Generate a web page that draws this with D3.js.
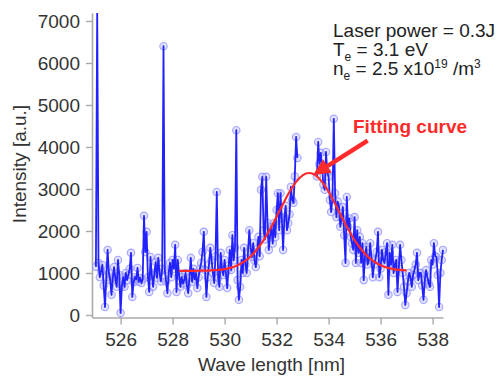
<!DOCTYPE html>
<html>
<head>
<meta charset="utf-8">
<script src="https://cdn.jsdelivr.net/npm/d3@7"></script>
<style>
  body { margin: 0; background: #fff; }
  svg text { font-family: "Liberation Sans", Arial, sans-serif; }
</style>
</head>
<body>
<svg id="chart" width="502" height="376"></svg>
<script>
// spectrum sampled every 0.05 nm from 525.05 nm; null = blocked around the laser line
const wlStart = 525.05;
const wlStep = 0.05;
const intensity = [
  1150, 7300, 1240, 900, 1050, 1190, 700, 190, 900, 1550,
  1000, 830, 480, 900, 1140, 850, 670, 1310, 950, 50,
  700, 900, 670, 1000, 830, 950, 1100, 1480, 430, 780,
  900, 850, 1120, 790, 880, 760, 850, 2360, 1500, 1980,
  900, 550, 1380, 950, 670, 1000, 1260, 880, 1360, 1000,
  800, 1100, 6400, 1070, 800, 520, 1000, 1240, 900, 1310,
  1100, 1670, 550, 1310, 950, 670, 900, 750, 830, 1000,
  700, 520, 900, 1360, 790, 1100, 850, 1000, 640, 900,
  1100, 1240, 1500, 1980, 1070, 430, 900, 1200, 1600, 1310,
  1000, 760, 1400, 2930, 880, 670, 1480, 1100, 950, 1310,
  1000, 640, 1100, 1550, 1070, 1900, 1300, 1600, 4400, 830,
  360, 670, 1310, 1000, 1600, 1200, 1000, 1500, 2020, 1600,
  1380, 1710, 1300, 1140, 1500, 1860, 1400, 2980, 3290, 2020,
  1800, 3290, 2190, 1550, 1900, 2100, 1700, 2190, 1850, 2500,
  2900, 2020, 2900, 2300, 1550, 2330, 2600, 2020, 2190, 2400,
  3050, 2740, 2670, 3300, 4240, 3740, null, null, null, null,
  null, null, null, null, null, null, null, null, null, null,
  3300, 4120, 3600, 3860, 3520, 3100, 2980, 3880, 3400, 3290,
  2740, 2450, 2800, 4670, 2900, 2330, 2700, 2570, 2100, 2300,
  2570, 1900, 1240, 2810, 2100, 2300, 1860, 1700, 1550, 2330,
  1240, 2020, 1480, 1860, 1240, 1710, 830, 1400, 1620, 1200,
  1310, 1710, 1350, 900, 1200, 1310, 1500, 1980, 900, 1100,
  1550, 1300, 1240, 1500, 1710, 480, 1480, 1200, 1670, 1000,
  1200, 1310, 550, 1100, 1670, 1310, 1000, 670, 240, 520,
  800, 1000, 900, 670, 950, 1070, 1200, 1480, 830, 1000,
  1000, 700, 360, 830, 1070, 900, 750, 670, 1310, 1200,
  1710, 1400, 1380, 950, 190, 1000, 1310, 1550
];

// fitted curve
const fitWavelengths = [528.25, 528.5, 528.75, 529, 529.25, 529.5, 529.75, 530, 530.25, 530.5,
  530.75, 531, 531.25, 531.5, 531.75, 532, 532.25, 532.5, 532.75, 533, 533.25, 533.5, 533.75,
  534, 534.25, 534.5, 534.75, 535, 535.25, 535.5, 535.75, 536, 536.25, 536.5, 536.75, 537];
const fitValues = [1050, 1050, 1051, 1053, 1056, 1061, 1073, 1093, 1128, 1183,
  1269, 1394, 1564, 1782, 2045, 2340, 2646, 2933, 3170, 3326, 3380, 3326, 3170,
  2933, 2646, 2340, 2045, 1782, 1564, 1394, 1269, 1183, 1128, 1093, 1073, 1061];

const xTicks = [526, 528, 530, 532, 534, 536, 538];
const yTicks = [0, 1000, 2000, 3000, 4000, 5000, 6000, 7000];

const svg = d3.select("svg#chart");
const margin = { left: 92, right: 443, top: 13, bottom: 317.5 };

const x = d3.scaleLinear().domain([524.9, 538.4]).range([margin.left, margin.right]);
const y = d3.scaleLinear().domain([-60, 7190]).range([margin.bottom, margin.top]);

const points = intensity.map((v, i) => ({ wl: wlStart + i * wlStep, v }));

svg.append("defs").append("clipPath").attr("id", "plot")
  .append("rect")
  .attr("x", margin.left).attr("y", margin.top)
  .attr("width", margin.right - margin.left + 4)
  .attr("height", margin.bottom - margin.top);

// axes
const gx = svg.append("g")
  .attr("transform", `translate(0,${margin.bottom})`)
  .call(d3.axisBottom(x).tickValues(xTicks).tickFormat(d3.format("d")).tickSize(7).tickSizeOuter(0).tickPadding(8));
const gy = svg.append("g")
  .attr("transform", `translate(${margin.left},0)`)
  .call(d3.axisLeft(y).tickValues(yTicks).tickFormat(d3.format("d")).tickSize(6).tickSizeOuter(0).tickPadding(6));

[gx, gy].forEach(g => {
  g.select(".domain").attr("stroke", "#aaa").attr("stroke-width", 1.6);
  g.selectAll(".tick line").attr("stroke", "#aaa").attr("stroke-width", 1.4);
  g.selectAll(".tick text").attr("fill", "#333").style("font-size", "19px");
});

svg.append("text")
  .attr("x", (margin.left + margin.right) / 2 + 4)
  .attr("y", 371)
  .attr("text-anchor", "middle")
  .attr("fill", "#333")
  .style("font-size", "19px")
  .text("Wave length [nm]");

svg.append("text")
  .attr("transform", "translate(26,164) rotate(-90)")
  .attr("text-anchor", "middle")
  .attr("fill", "#333")
  .style("font-size", "19px")
  .text("Intensity [a.u.]");

// data
const plot = svg.append("g").attr("clip-path", "url(#plot)");

plot.append("g")
  .selectAll("circle")
  .data(points.filter(d => d.v != null))
  .enter()
  .append("circle")
  .attr("cx", d => x(d.wl))
  .attr("cy", d => y(d.v))
  .attr("r", 3.7)
  .attr("fill", "rgba(170,170,255,0.35)")
  .attr("stroke", "rgba(140,140,255,0.75)")
  .attr("stroke-width", 1.1);

const line = d3.line()
  .defined(d => d.v != null)
  .x(d => x(d.wl))
  .y(d => y(d.v));

plot.append("path")
  .datum(points)
  .attr("fill", "none")
  .attr("stroke", "#2222ff")
  .attr("stroke-width", 1.8)
  .attr("stroke-linejoin", "round")
  .attr("d", line);

const fitLine = d3.line()
  .curve(d3.curveMonotoneX)
  .x((d, i) => x(fitWavelengths[i]))
  .y(d => y(d));

plot.append("path")
  .datum(fitValues)
  .attr("fill", "none")
  .attr("stroke", "#ff2a2a")
  .attr("stroke-width", 2.2)
  .attr("d", fitLine);

// arrow pointing at the fit peak
const tail = [x(535.5), y(4150)];
const tip = [x(533.4), y(3330)];
const ang = Math.atan2(tip[1] - tail[1], tip[0] - tail[0]);
const headLen = 17, headHalf = 8;
const base = [tip[0] - headLen * Math.cos(ang), tip[1] - headLen * Math.sin(ang)];

svg.append("line")
  .attr("x1", tail[0]).attr("y1", tail[1])
  .attr("x2", base[0]).attr("y2", base[1])
  .attr("stroke", "#ff2a2a")
  .attr("stroke-width", 4.5);

svg.append("path")
  .attr("fill", "#ff2a2a")
  .attr("d", d3.line()([
    tip,
    [base[0] + headHalf * Math.sin(ang), base[1] - headHalf * Math.cos(ang)],
    [base[0] - headHalf * Math.sin(ang), base[1] + headHalf * Math.cos(ang)]
  ]) + "Z");

svg.append("text")
  .attr("x", 353)
  .attr("y", 133)
  .attr("fill", "#ff2a2a")
  .style("font-size", "19px")
  .style("font-weight", "bold")
  .text("Fitting curve");

// run conditions
const note = svg.append("g").attr("fill", "#222").style("font-size", "19px");
note.append("text").attr("x", 333).attr("y", 37).text("Laser power = 0.3J");

const te = note.append("text").attr("x", 333).attr("y", 56);
te.append("tspan").text("T");
te.append("tspan").attr("dy", 5).style("font-size", "12px").text("e");
te.append("tspan").attr("dy", -5).text(" = 3.1 eV");

const ne = note.append("text").attr("x", 333).attr("y", 75);
ne.append("tspan").text("n");
ne.append("tspan").attr("dy", 5).style("font-size", "12px").text("e");
ne.append("tspan").attr("dy", -5).text(" = 2.5 x10");
ne.append("tspan").attr("dy", -7).style("font-size", "12px").text("19");
ne.append("tspan").attr("dy", 7).text("  /m");
ne.append("tspan").attr("dy", -7).style("font-size", "12px").text("3");
</script>
</body>
</html>
